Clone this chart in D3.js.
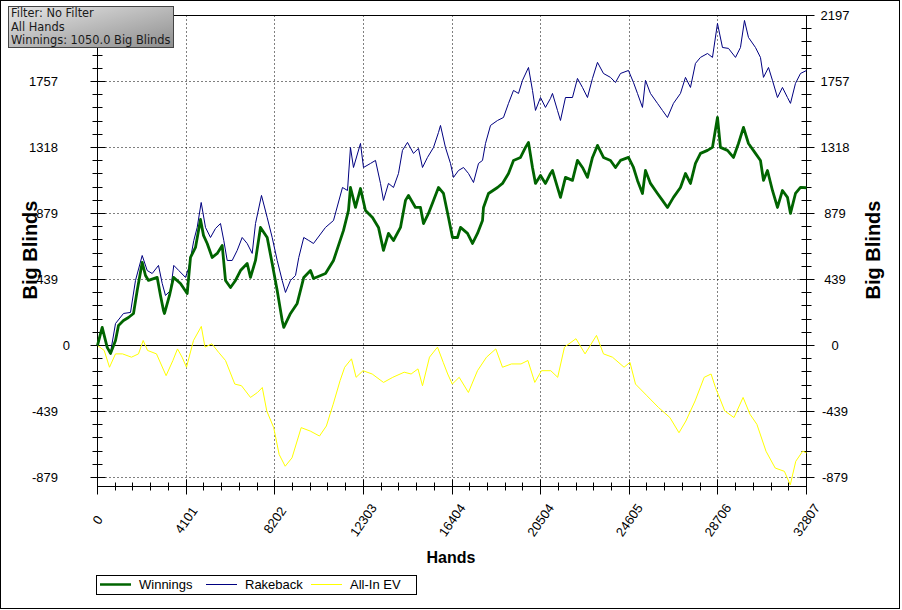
<!DOCTYPE html>
<html>
<head>
<meta charset="utf-8">
<script src="https://cdn.jsdelivr.net/npm/d3@7"></script>
<style>
  body { margin: 0; background: #fff; }
  svg { display: block; }
</style>
</head>
<body>
<svg id="chart" width="902" height="610"></svg>
<script>
// values (hands, big blinds)
const winHands = [0, 217, 449, 602, 833, 972, 1203, 1434, 1666, 1837, 2068, 2221, 2360, 2762, 2915, 3054, 3100, 3331, 3517, 3840,
  4150, 4303, 4534, 4766, 4905, 5076, 5307, 5539, 5770, 5923, 6154, 6385, 6617, 6926, 7079, 7311, 7542, 7852, 8083, 8315,
  8546, 8620, 8930, 9240, 9545, 9855, 9994, 10550, 10920, 11383, 11614, 11706, 11938, 12169, 12400, 12724, 13002, 13233, 13464, 13696,
  14020, 14251, 14390, 14714, 14945, 15084, 15315, 15547, 15778, 16010, 16241, 16426, 16658, 16797, 17121, 17352, 17583, 17815, 17861, 18092,
  18509, 18740, 19018, 19249, 19573, 19804, 19943, 20128, 20267, 20498, 20729, 20960, 21053, 21284, 21423, 21654, 21978, 22209, 22441, 22672,
  22904, 23135, 23413, 23737, 23968, 24199, 24569, 24801, 24986, 25217, 25356, 25587, 25911, 26142, 26374, 26651, 26975, 27207, 27438, 27669,
  27901, 28225, 28456, 28688, 28826, 29150, 29428, 29659, 29891, 30122, 30446, 30677, 30816, 31001, 31232, 31464, 31695, 31927, 32066, 32297,
  32529, 32807];
const winValues = [0, 120, -13, -53, 33, 133, 166, 186, 213, 366, 553, 466, 433, 453, 333, 233, 213, 333, 453, 413,
  346, 586, 653, 839, 733, 679, 586, 613, 666, 433, 386, 433, 499, 546, 453, 566, 786, 719, 546, 366,
  166, 120, 213, 280, 453, 499, 446, 479, 566, 766, 899, 1052, 919, 1045, 899, 852, 786, 633, 746, 699,
  786, 966, 999, 919, 919, 812, 879, 966, 1052, 1012, 852, 719, 719, 786, 746, 679, 746, 832, 919, 1012,
  1052, 1079, 1145, 1232, 1252, 1319, 1352, 1185, 1079, 1132, 1079, 1145, 1165, 1052, 986, 1119, 1099, 1232, 1185, 1119,
  1252, 1332, 1252, 1232, 1185, 1232, 1252, 1185, 1099, 1012, 1165, 1079, 1012, 966, 919, 986, 1052, 1145, 1079, 1212,
  1279, 1299, 1319, 1518, 1319, 1299, 1252, 1345, 1452, 1345, 1279, 1232, 1099, 1165, 1032, 919, 1032, 986, 879, 1012,
  1052, 1050];

const rbHands = [0, 217, 449, 602, 833, 1203, 1527, 1758, 2068, 2300, 2531, 2822, 2994, 3146, 3378, 3530, 3762, 4072, 4225, 4456,
  4613, 4798, 4997, 5229, 5460, 5691, 5844, 6001, 6233, 6464, 6695, 6926, 7158, 7311, 7588, 7852, 8083, 8315, 8546, 8699,
  8930, 9162, 9314, 9545, 9777, 9994, 10550, 10920, 11336, 11568, 11706, 11845, 12169, 12308, 12632, 12863, 13095, 13233, 13464, 13696,
  13927, 14112, 14344, 14621, 14853, 15038, 15269, 15547, 15778, 15871, 16102, 16334, 16473, 16704, 16936, 17167, 17398, 17630, 17815, 17954,
  18185, 18509, 18786, 19018, 19249, 19480, 19665, 19943, 20128, 20267, 20498, 20729, 20960, 21053, 21284, 21423, 21654, 21978, 22209, 22441,
  22672, 22904, 23135, 23413, 23737, 23968, 24199, 24569, 24801, 24986, 25217, 25356, 25587, 25911, 26142, 26374, 26651, 26975, 27207, 27438,
  27669, 27901, 28225, 28456, 28688, 28919, 29197, 29521, 29752, 29937, 30122, 30446, 30677, 30816, 31048, 31232, 31464, 31695, 31927, 32066,
  32297, 32529, 32807];
const rbValues = [0, 120, -13, -47, 146, 213, 220, 433, 599, 499, 479, 533, 413, 333, 366, 533, 499, 453, 519, 699,
  786, 952, 786, 719, 779, 812, 699, 566, 566, 633, 719, 679, 613, 812, 999, 852, 719, 566, 433, 353,
  433, 466, 586, 719, 699, 679, 786, 832, 1052, 1032, 1318, 1185, 1345, 1185, 1212, 1232, 1079, 966, 1079, 1052,
  1145, 1299, 1352, 1279, 1312, 1185, 1252, 1318, 1418, 1465, 1318, 1212, 1119, 1165, 1185, 1145, 1085, 1212, 1232, 1345,
  1465, 1498, 1518, 1612, 1698, 1678, 1765, 1851, 1698, 1565, 1651, 1585, 1645, 1678, 1565, 1498, 1651, 1651, 1778, 1718,
  1651, 1778, 1885, 1811, 1785, 1751, 1811, 1831, 1751, 1678, 1585, 1765, 1678, 1612, 1565, 1518, 1612, 1678, 1785, 1718,
  1878, 1918, 1944, 1918, 2144, 1984, 1978, 1918, 1984, 2164, 2051, 1984, 1918, 1785, 1851, 1765, 1651, 1718, 1651, 1612,
  1745, 1811, 1831];

const evHands = [0, 310, 555, 833, 1157, 1573, 1897, 2114, 2314, 2730, 3174, 3489, 3702, 3914, 4118, 4442, 4803, 4974, 5293, 5599,
  5923, 6353, 6663, 7079, 7403, 7625, 7833, 8153, 8407, 8685, 9000, 9425, 9846, 10272, 10591, 10906, 11225, 11438, 11753, 11966,
  12285, 12711, 13234, 13664, 14192, 14511, 14830, 15038, 15362, 15732, 15996, 16204, 16417, 16736, 17162, 17583, 18000, 18430, 18740, 19156,
  19596, 19915, 20234, 20544, 20974, 21294, 21608, 22140, 22561, 23089, 23413, 23829, 24366, 24639, 24894, 25426, 25958, 26486, 26907, 27226,
  27652, 28073, 28392, 28596, 29026, 29452, 29873, 30192, 30511, 30933, 31358, 31784, 32057, 32311, 32631, 32807];
const evValues = [0, -33, -145, -56, -56, -78, -56, 33, -33, -56, -201, -100, -23, -78, -145, 33, 127, -11, 11, -45,
  -100, -257, -268, -346, -313, -280, -436, -547, -726, -804, -748, -547, -570, -603, -536, -391, -234, -145, -89, -212,
  -168, -190, -246, -212, -178, -190, -156, -268, -78, -11, -112, -190, -257, -212, -313, -168, -78, -23, -145, -123,
  -123, -100, -246, -168, -168, -212, -11, 45, -56, 67, -56, -78, -145, -112, -257, -335, -413, -480, -581, -503,
  -369, -212, -190, -280, -436, -480, -346, -458, -525, -704, -816, -838, -928, -771, -704, -715];

const yTicks = [-879, -439, 0, 439, 879, 1318, 1757, 2197];
const xTicks = [0, 4101, 8202, 12303, 16404, 20504, 24605, 28706, 32807];
const seriesNames = ['Winnings', 'Rakeback', 'All-In EV'];
const seriesColors = ['#006400', '#000080', '#ffff00'];
const infoLines = ['Filter: No Filter', 'All Hands', 'Winnings: 1050.0 Big Blinds'];

const svg = d3.select('#chart');
const plot = { left: 97.5, right: 806.5, top: 15.5, bottom: 486.5 };

const x = d3.scaleLinear().domain([0, 32807]).range([plot.left, plot.right]);
const y = d3.scaleLinear().domain([-939, 2197]).range([plot.bottom, plot.top]);
const px = v => Math.round(x(v) - 0.5) + 0.5;
const py = v => Math.round(y(v) - 0.5) + 0.5;

// outer frame
svg.append('rect')
  .attr('x', 0.5).attr('y', 0.5)
  .attr('width', 899).attr('height', 608)
  .attr('fill', '#fff')
  .attr('stroke', '#000');

// dotted grid
const grid = svg.append('g').attr('stroke', '#000').attr('stroke-dasharray', '1,3');
grid.selectAll('.gx').data(xTicks.slice(1, -1)).join('line')
  .attr('class', 'gx')
  .attr('x1', d => px(d)).attr('x2', d => px(d))
  .attr('y1', plot.top).attr('y2', plot.bottom);
grid.selectAll('.gy').data(yTicks.filter(d => d !== 0 && d !== 2197)).join('line')
  .attr('class', 'gy')
  .attr('x1', plot.left).attr('x2', plot.right)
  .attr('y1', d => py(d)).attr('y2', d => py(d));

// zero line and frame of the plot
svg.append('line')
  .attr('x1', plot.left).attr('x2', plot.right)
  .attr('y1', py(0)).attr('y2', py(0))
  .attr('stroke', '#000');
svg.append('path')
  .attr('d', `M${plot.left},${plot.bottom + 6}V${plot.top}H${plot.right}V${plot.bottom + 6}M${plot.left},${plot.bottom}H${plot.right}`)
  .attr('fill', 'none')
  .attr('stroke', '#000');

// ticks (they cross the axis lines)
const xMinor = d3.range(0, 41).map(i => i * 32807 / 40).filter((d, i) => i % 5 !== 0);
const yMinor = d3.range(-10, 26).map(i => i * 439.36 / 5).filter((d, i) => (i - 10) % 5 !== 0 && d > -939);

const ticks = svg.append('g').attr('stroke', '#000');
ticks.selectAll('.xmaj').data(xTicks).join('line')
  .attr('class', 'xmaj')
  .attr('x1', d => px(d)).attr('x2', d => px(d))
  .attr('y1', plot.bottom - 7).attr('y2', plot.bottom + 8);
ticks.selectAll('.xmin').data(xMinor).join('line')
  .attr('class', 'xmin')
  .attr('x1', d => px(d)).attr('x2', d => px(d))
  .attr('y1', plot.bottom - 4).attr('y2', plot.bottom + 4);
[plot.left, plot.right].forEach(ax => {
  ticks.selectAll(null).data(yTicks).join('line')
    .attr('x1', ax - 7).attr('x2', ax + 8)
    .attr('y1', d => py(d)).attr('y2', d => py(d));
  ticks.selectAll(null).data(yMinor).join('line')
    .attr('x1', ax - 5).attr('x2', ax + 5)
    .attr('y1', d => py(d)).attr('y2', d => py(d));
});

// tick labels
const labelFont = 'Arial, "Liberation Sans", sans-serif';
svg.selectAll('.yl').data(yTicks).join('text')
  .attr('class', 'yl')
  .attr('x', d => d === 0 ? 70 : 58).attr('y', d => y(d))
  .attr('dy', '0.35em')
  .attr('text-anchor', 'end')
  .attr('font-family', labelFont).attr('font-size', 13)
  .text(d => d);
svg.selectAll('.yr').data(yTicks).join('text')
  .attr('class', 'yr')
  .attr('x', 835).attr('y', d => y(d))
  .attr('dy', '0.35em')
  .attr('text-anchor', 'middle')
  .attr('font-family', labelFont).attr('font-size', 13)
  .text(d => d);
svg.selectAll('.xl').data(xTicks).join('text')
  .attr('class', 'xl')
  .attr('transform', d => `translate(${x(d)},520) rotate(-55)`)
  .attr('dy', '0.35em')
  .attr('text-anchor', 'middle')
  .attr('font-family', labelFont).attr('font-size', 13)
  .text(d => d);

// axis titles
svg.append('text')
  .attr('transform', 'translate(37,250) rotate(-90)')
  .attr('text-anchor', 'middle')
  .attr('font-family', labelFont).attr('font-size', 20).attr('font-weight', 'bold')
  .text('Big Blinds');
svg.append('text')
  .attr('transform', 'translate(880,250) rotate(-90)')
  .attr('text-anchor', 'middle')
  .attr('font-family', labelFont).attr('font-size', 20).attr('font-weight', 'bold')
  .text('Big Blinds');
svg.append('text')
  .attr('x', 451).attr('y', 563)
  .attr('text-anchor', 'middle')
  .attr('font-family', labelFont).attr('font-size', 16).attr('font-weight', 'bold')
  .text('Hands');

// series
const series = [
  { hands: evHands, values: evValues, color: seriesColors[2], width: 1 },
  { hands: rbHands, values: rbValues, color: seriesColors[1], width: 1 },
  { hands: winHands, values: winValues, color: seriesColors[0], width: 2.8 }
];
const line = d3.line().x(d => x(d[0])).y(d => y(d[1]));
svg.append('g').selectAll('path').data(series).join('path')
  .attr('d', s => line(d3.zip(s.hands, s.values)))
  .attr('fill', 'none')
  .attr('stroke', s => s.color)
  .attr('stroke-width', s => s.width)
  .attr('stroke-linejoin', 'round');

// legend
const legend = svg.append('g');
legend.append('rect')
  .attr('x', 96.5).attr('y', 575.5)
  .attr('width', 320).attr('height', 19)
  .attr('fill', '#fff').attr('stroke', '#000');
const legendX = [100, 206, 311];
const legendWidths = [2.5, 1, 1];
legend.selectAll('.ll').data(seriesNames).join('line')
  .attr('class', 'll')
  .attr('x1', (d, i) => legendX[i]).attr('x2', (d, i) => legendX[i] + 31)
  .attr('y1', 584.5).attr('y2', 584.5)
  .attr('stroke', (d, i) => seriesColors[i])
  .attr('stroke-width', (d, i) => legendWidths[i]);
legend.selectAll('.lt').data(seriesNames).join('text')
  .attr('class', 'lt')
  .attr('x', (d, i) => legendX[i] + 39).attr('y', 589)
  .attr('font-family', labelFont).attr('font-size', 13)
  .text(d => d);

// info box
const info = svg.append('g');
const grad = svg.append('defs').append('linearGradient')
  .attr('id', 'infoGrad')
  .attr('x1', 0).attr('y1', 0).attr('x2', 1).attr('y2', 1);
grad.append('stop').attr('offset', 0).attr('stop-color', '#e6e6e6');
grad.append('stop').attr('offset', 1).attr('stop-color', '#8e8e8e');
info.append('rect')
  .attr('x', 8.5).attr('y', 6.5)
  .attr('width', 165).attr('height', 41)
  .attr('fill', 'url(#infoGrad)')
  .attr('stroke', '#444');
info.selectAll('text').data(infoLines).join('text')
  .attr('x', 11).attr('y', (d, i) => 17 + i * 13.6)
  .attr('font-family', '"DejaVu Sans", Verdana, sans-serif').attr('font-size', 11.4)
  .attr('fill', '#1a1a1a')
  .text(d => d);
</script>
</body>
</html>
